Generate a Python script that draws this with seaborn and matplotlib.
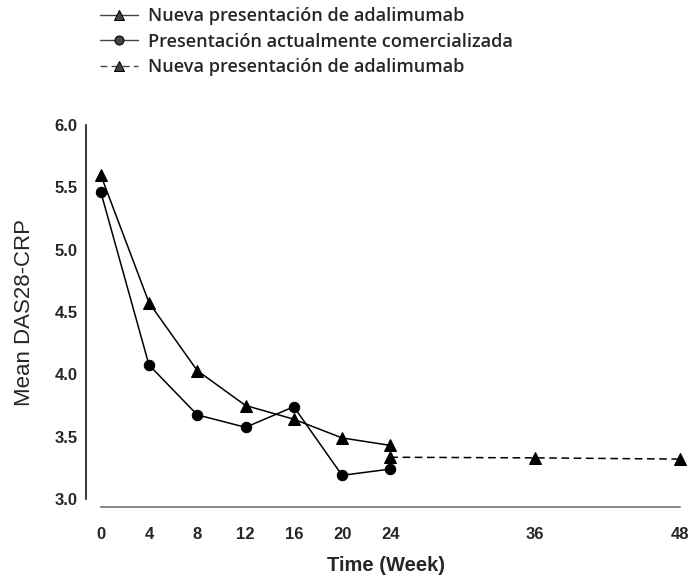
import matplotlib
matplotlib.use("Agg")
import matplotlib.pyplot as plt
import seaborn as sns
import pandas as pd

weeks_main = [0, 4, 8, 12, 16, 20, 24]
new_pres = [5.60, 4.575, 4.03, 3.75, 3.64, 3.49, 3.43]
current_pres = [5.465, 4.075, 3.675, 3.575, 3.74, 3.19, 3.24]
weeks_ext = [24, 36, 48]
new_pres_ext = [3.335, 3.33, 3.32]

labels = ["Nueva presentación de adalimumab",
          "Presentación actualmente comercializada",
          "Nueva presentación de adalimumab"]
xticks = [0, 4, 8, 12, 16, 20, 24, 36, 48]
yticks = [3.0, 3.5, 4.0, 4.5, 5.0, 5.5, 6.0]

sns.set_theme(style="white")
plt.rcParams['font.family'] = ['Liberation Sans', 'DejaVu Sans']

fig = plt.figure(figsize=(6.89, 5.77), dpi=100)
ax = fig.add_axes([86/689, 1-499/577, (686-86)/689, (499-125)/577])

df1 = pd.DataFrame({"week": weeks_main, "val": new_pres})
df2 = pd.DataFrame({"week": weeks_main, "val": current_pres})
df3 = pd.DataFrame({"week": weeks_ext, "val": new_pres_ext})

sns.lineplot(data=df1, x="week", y="val", ax=ax, color="black", lw=1.1,
             marker="^", markersize=8.5, markeredgecolor="black", label=labels[0], clip_on=False)
sns.lineplot(data=df2, x="week", y="val", ax=ax, color="black", lw=1.1,
             marker="o", markersize=7.5, markeredgecolor="black", label=labels[1], clip_on=False)
sns.lineplot(data=df3, x="week", y="val", ax=ax, color="black", lw=1.1,
             marker="^", markersize=8.5, markeredgecolor="black", label=labels[2],
             dashes=False, linestyle=(0, (5, 3)), clip_on=False)

ax.set_xlim(-1.22, 48.5)
ax.set_ylim(3.0, 6.0)
ax.set_xticks(xticks)
ax.set_xticklabels([str(t) for t in xticks])
ax.set_yticks(yticks)
ax.set_yticklabels([f"{t:.1f}" for t in yticks])

for s in ["top", "right"]:
    ax.spines[s].set_visible(False)
ax.spines["left"].set_bounds(3.0, 6.0)
ax.spines["left"].set_color("black")
ax.spines["left"].set_linewidth(1.1)
ax.spines["bottom"].set_bounds(0, 48)
ax.spines["bottom"].set_position(("outward", 6))
ax.spines["bottom"].set_color("#666666")
ax.spines["bottom"].set_linewidth(1.1)

ax.tick_params(axis="y", direction="out", length=5, width=1.1, color="black", pad=1,
               labelsize=12)
ax.tick_params(axis="x", direction="out", length=5, width=1.1, color="#666666", pad=9,
               labelsize=12)
for lab in ax.get_xticklabels() + ax.get_yticklabels():
    lab.set_fontweight("bold")

ax.set_xlabel("Time (Week)", fontsize=14.5, fontweight="bold", labelpad=10)
ax.set_ylabel("Mean DAS28-CRP", fontsize=16, labelpad=14)

leg = ax.legend(loc="upper left", bbox_to_anchor=(100/689, 1-7/577),
                bbox_transform=fig.transFigure, frameon=False,
                prop={"family": ["Open Sans", "DejaVu Sans"], "size": 13.1,
                      "weight": "semibold"},
                handlelength=2.1, handletextpad=0.55, labelspacing=0.42,
                borderaxespad=0, borderpad=0)
for line in leg.get_lines():
    line.set_color("#444444")
    line.set_linewidth(1.0)
    line.set_markersize(6.5)

fig.savefig("out.png", dpi=100)
